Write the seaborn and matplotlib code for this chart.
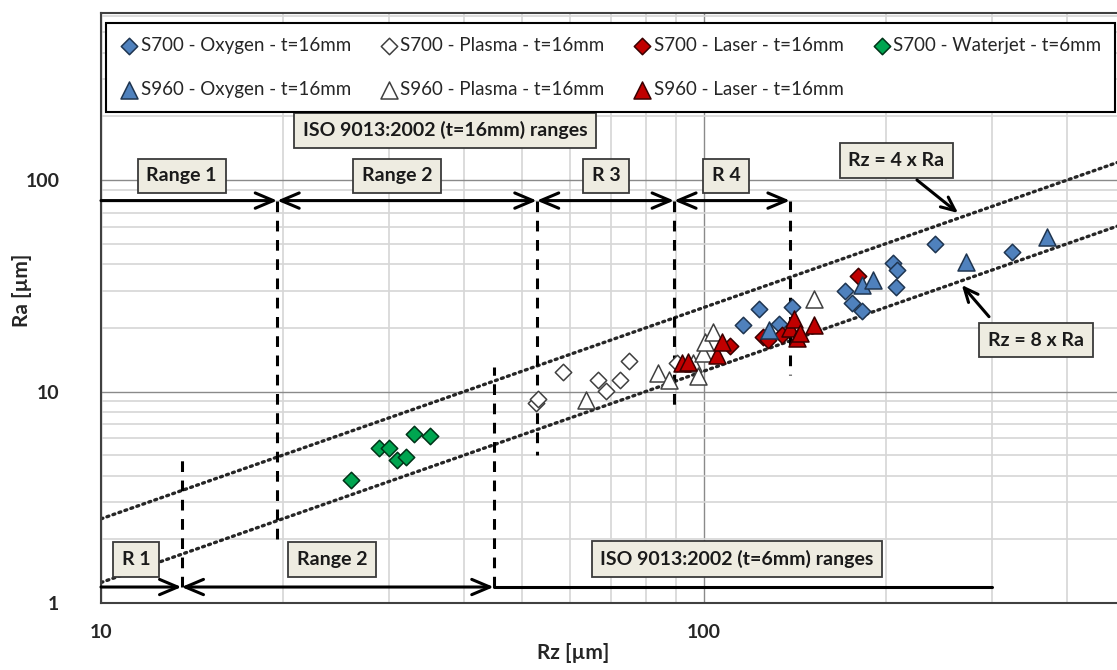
import numpy as np
import matplotlib
matplotlib.use("Agg")
import matplotlib.pyplot as plt
import seaborn as sns
from matplotlib.ticker import LogLocator, FuncFormatter, NullFormatter

# ---- data (Rz, Ra in µm) ----
s700_oxy_rz = [116, 123.5, 133, 140, 171, 176, 183, 206, 209, 208, 242, 324]
s700_oxy_ra = [20.7, 24.5, 20.9, 25.2, 29.9, 26.2, 24.1, 40.5, 37.6, 31.1, 49.7, 45.6]

s700_plasma_rz = [52.7, 53.0, 58.4, 66.8, 68.8, 72.6, 75.1, 90.1]
s700_plasma_ra = [8.8, 9.2, 12.4, 11.4, 10.1, 11.4, 13.9, 13.7]

s700_laser_rz = [110.4, 125.4, 127.8, 134.5, 180.3]
s700_laser_ra = [16.4, 18.1, 17.5, 18.5, 35.2]

s700_water_rz = [26.0, 28.9, 30.0, 31.0, 32.0, 33.0, 35.1]
s700_water_ra = [3.83, 5.40, 5.40, 4.76, 4.90, 6.29, 6.17]

s960_oxy_rz = [128, 183, 191, 272, 370]
s960_oxy_ra = [19.6, 31.9, 33.7, 41.2, 53.7]

s960_plasma_rz = [63.7, 84.0, 87.6, 96.0, 97.8, 99.8, 100.4, 103.6, 152]
s960_plasma_ra = [9.1, 12.3, 11.4, 13.6, 11.9, 15.2, 17.2, 19.2, 27.3]

s960_laser_rz = [92, 94, 105, 107, 139, 141, 142.5, 144.3, 152]
s960_laser_ra = [13.6, 13.8, 14.9, 17.2, 19.9, 22.0, 17.9, 19.0, 20.7]

# ISO 9013:2002 range limits (Rz) for t=16mm and t=6mm
limits_16 = [19.6, 52.8, 89.2, 138.8]
dash_bottom_16 = [2.0, 5.0, 8.0, 12.0]
limits_6 = [13.6, 44.8]
dash_top_6 = [5.0, 13.0]
line_end_6 = 300

rz_line = [10, 484]

sns.set_style("white")
plt.rcParams['font.family'] = ['Lato', 'DejaVu Sans']

fig = plt.figure(figsize=(11.17, 6.7), dpi=100)
ax = fig.add_axes([0.0904, 0.1, 0.9096, 0.8806])
ax.set_xscale('log')
ax.set_yscale('log')
ax.set_xlim(10, 484)
ax.set_ylim(1, 617)

# grid
for axis in (ax.xaxis, ax.yaxis):
    axis.set_major_locator(LogLocator(base=10))
    axis.set_minor_locator(LogLocator(base=10, subs=range(2, 10)))
    axis.set_major_formatter(FuncFormatter(lambda v, _: f"{v:g}"))
    axis.set_minor_formatter(NullFormatter())
ax.grid(which='minor', color='#d6d6d6', lw=1.2, zorder=0)
ax.grid(which='major', color='#8a8a8a', lw=1.0, zorder=0)
ax.set_axisbelow(True)
ax.tick_params(which='both', length=0)
ax.tick_params(axis='x', pad=15, labelsize=14)
ax.tick_params(axis='y', pad=30, labelsize=14)
for lab in ax.get_xticklabels() + ax.get_yticklabels():
    lab.set_fontweight('bold')
for side in ['left', 'bottom', 'top']:
    ax.spines[side].set_color('#404040')
    ax.spines[side].set_linewidth(1.5)
ax.spines['right'].set_visible(False)

# Rz = 4 x Ra and Rz = 8 x Ra reference lines
rz = np.array(rz_line, dtype=float)
sns.lineplot(x=rz, y=rz / 4, ax=ax, color='#262626', lw=2.4, linestyle=(0, (0.6, 1.3)),
             dash_capstyle='round', zorder=2)
sns.lineplot(x=rz, y=rz / 8, ax=ax, color='#262626', lw=2.4, linestyle=(0, (0.6, 1.3)),
             dash_capstyle='round', zorder=2)

# range arrows
arrow_kw = dict(lw=2.2, color='black', shrinkA=0, shrinkB=0)
y16 = 80
ax.annotate('', xy=(limits_16[0], y16), xytext=(10, y16),
            arrowprops=dict(arrowstyle='->,head_length=1.3,head_width=0.55', **arrow_kw))
for a, b in zip(limits_16[:-1], limits_16[1:]):
    ax.annotate('', xy=(b, y16), xytext=(a, y16),
                arrowprops=dict(arrowstyle='<->,head_length=1.3,head_width=0.55', **arrow_kw))
for x, yb in zip(limits_16, dash_bottom_16):
    ax.plot([x, x], [y16, yb], color='black', lw=2.2, linestyle=(0, (3.5, 2.8)), zorder=2)

y6 = 1.19
ax.annotate('', xy=(limits_6[0], y6), xytext=(10, y6),
            arrowprops=dict(arrowstyle='->,head_length=1.3,head_width=0.55', **arrow_kw))
ax.annotate('', xy=(limits_6[1], y6), xytext=(limits_6[0], y6),
            arrowprops=dict(arrowstyle='<->,head_length=1.3,head_width=0.55', **arrow_kw))
ax.plot([limits_6[1], line_end_6], [y6, y6], color='black', lw=2.2, zorder=2)
for x, yt in zip(limits_6, dash_top_6):
    ax.plot([x, x], [y6, yt], color='black', lw=2.2, linestyle=(0, (3.5, 2.8)), zorder=2)

# data series
series = [
    (s700_oxy_rz, s700_oxy_ra, 'D', '#4F81BD', '#1F3550', 'S700 - Oxygen - t=16mm', 70),
    (s700_plasma_rz, s700_plasma_ra, 'D', 'white', '#404040', 'S700 - Plasma - t=16mm', 70),
    (s700_laser_rz, s700_laser_ra, 'D', '#C00000', '#3a0000', 'S700 - Laser - t=16mm', 70),
    (s700_water_rz, s700_water_ra, 'D', '#00A550', '#003318', 'S700 - Waterjet - t=6mm', 70),
    (s960_oxy_rz, s960_oxy_ra, '^', '#4F81BD', '#1F3550', 'S960 - Oxygen - t=16mm', 150),
    (s960_plasma_rz, s960_plasma_ra, '^', 'white', '#404040', 'S960 - Plasma - t=16mm', 150),
    (s960_laser_rz, s960_laser_ra, '^', '#C00000', '#3a0000', 'S960 - Laser - t=16mm', 150),
]
for xs, ys, m, fc, ec, lab, s in series:
    sns.scatterplot(x=xs, y=ys, ax=ax, marker=m, color=fc, edgecolor=ec, linewidth=1.1,
                    s=s, label=lab, zorder=4)

# text boxes
box = dict(boxstyle='square,pad=0.45', fc='#EEECE1', ec='#3a3a3a', lw=1.3)
labels_boxes = [
    ('ISO 9013:2002 (t=16mm) ranges', 37.2, 172),
    ('Range 1', 13.6, 104.6),
    ('Range 2', 31.0, 104.6),
    ('R 3', 68.8, 104.6),
    ('R 4', 108.8, 104.6),
    ('Rz = 4 x Ra', 208.5, 123.8),
    ('Rz = 8 x Ra', 355, 17.5),
    ('R 1', 11.43, 1.61),
    ('Range 2', 24.2, 1.61),
    ('ISO 9013:2002 (t=6mm) ranges', 113.4, 1.61),
]
for txt, x, y in labels_boxes:
    ax.text(x, y, txt, ha='center', va='center', fontsize=14, fontweight='bold',
            color='#1a1a1a', bbox=box, zorder=6)

# pointer arrows to the reference lines
ax.annotate('', xy=(263.8, 69.9), xytext=(225.5, 100.1),
            arrowprops=dict(arrowstyle='->,head_length=1.0,head_width=0.45', **arrow_kw), zorder=6)
ax.annotate('', xy=(267.6, 31.9), xytext=(296.9, 22.6),
            arrowprops=dict(arrowstyle='->,head_length=1.0,head_width=0.45', **arrow_kw), zorder=6)

# legend
h, l = ax.get_legend_handles_labels()
order = [0, 4, 1, 5, 2, 6, 3]
leg = ax.legend([h[i] for i in order], [l[i] for i in order], ncol=4, mode='expand',
                loc='upper left', bbox_to_anchor=(0.005, 0.839, 0.993, 0.144),
                borderaxespad=0, fontsize=13.5, frameon=True, fancybox=False,
                framealpha=1, edgecolor='black', handletextpad=0.1,
                labelspacing=1.45, handlelength=1.0, borderpad=0.75)
leg.get_frame().set_linewidth(1.5)
leg.set_zorder(10)

ax.set_xlabel('Rz [µm]', fontsize=15, fontweight='bold')
ax.set_ylabel('Ra [µm]', fontsize=15, fontweight='bold')
ax.xaxis.set_label_coords(0.4646, -0.068)
ax.yaxis.set_label_coords(-0.068, 0.53)

fig.savefig('out.png', dpi=100)
